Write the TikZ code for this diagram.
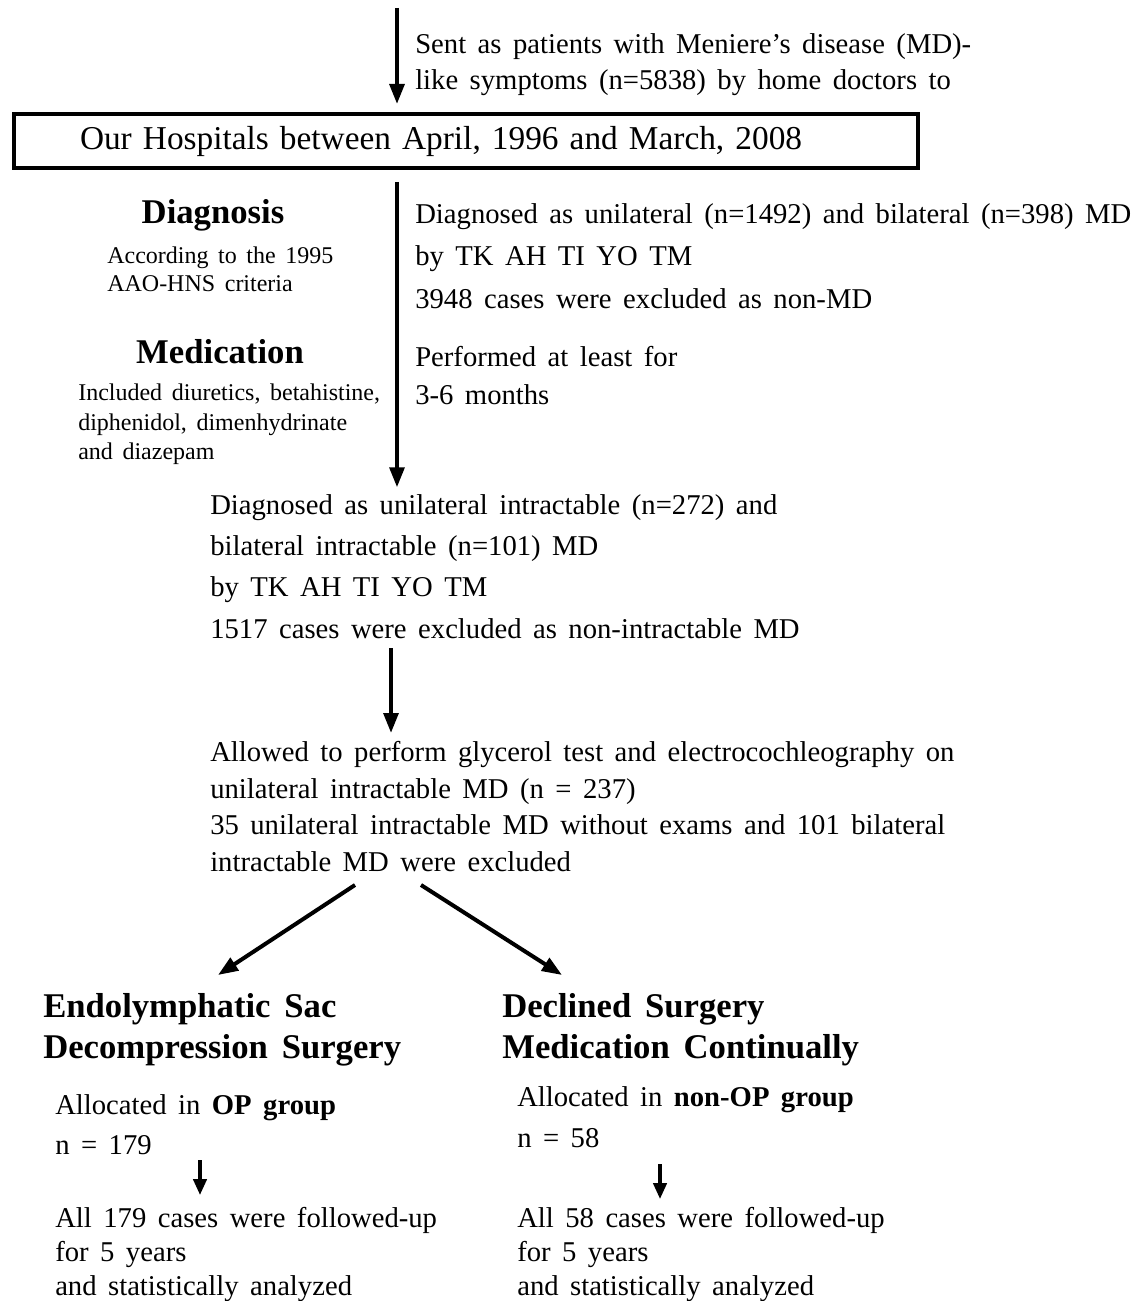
\documentclass[tikz,border=0pt]{standalone}
\usepackage{fontspec}
\setmainfont{Liberation Serif}[WordSpace=1.6]
\usetikzlibrary{arrows.meta, calc}

\begin{document}
\begin{tikzpicture}[x=0.75pt, y=-0.75pt,
    txt/.style={anchor=north west, inner sep=0pt, align=left, font=\fontsize{21.5}{30}\selectfont},
    small/.style={anchor=north west, inner sep=0pt, align=left, font=\fontsize{18}{21}\selectfont},
    head/.style={anchor=north, inner sep=0pt, font=\fontsize{26}{31}\selectfont\bfseries},
    hd/.style={anchor=north west, inner sep=0pt, align=left, font=\fontsize{26}{31}\selectfont\bfseries},
    arr/.style={-{Triangle[length=15pt, width=11pt]}, line width=3pt},
    sarr/.style={-{Triangle[length=12pt, width=10pt]}, line width=2.6pt}]
\useasboundingbox (0,0) rectangle (1130,1301);
% top of the chart
\coordinate (src) at (397,8);
\node[draw, line width=3pt, anchor=west, minimum height=40.5pt, inner xsep=49.5pt, text width=579pt, align=left, font=\fontsize{25}{28}\selectfont] (hosp) at (12,141) {Our Hospitals between April, 1996 and March, 2008};
\node[txt, font=\fontsize{21.5}{27}\selectfont] (sent) at (415,33) {Sent as patients with Meniere's disease (MD)-\\like symptoms (n=5838) by home doctors to};
\draw[arr, shorten >=6pt] (src) -- (hosp.north -| src);

% diagnosis and medication
\node[head] (dgn) at (213,199) {Diagnosis};
\node[small] (crit) at (107,247) {According to the 1995\\AAO-HNS criteria};
\node[head] (med) at (220,339) {Medication};
\node[small, font=\fontsize{18}{22}\selectfont] (drug) at (78,384) {Included diuretics, betahistine,\\diphenidol, dimenhydrinate\\and diazepam};
\node[txt, font=\fontsize{21.5}{32}\selectfont] (diag) at (415,203) {Diagnosed as unilateral (n=1492) and bilateral (n=398) MD\\by TK AH TI YO TM\\3948 cases were excluded as non-MD};
\node[txt, font=\fontsize{21.5}{28.5}\selectfont] (perf) at (415,346) {Performed at least for\\3-6 months};

% intractable MD
\node[txt, font=\fontsize{21.5}{31}\selectfont] (intr) at (210,494) {Diagnosed as unilateral intractable (n=272) and\\bilateral intractable (n=101) MD\\by TK AH TI YO TM\\1517 cases were excluded as non-intractable MD};
\draw[arr, shorten <=9pt, shorten >=5pt] (hosp.south -| src) -- (intr.north -| src);
\node[txt, font=\fontsize{21.5}{27.5}\selectfont] (allow) at (210,741) {Allowed to perform glycerol test and electrocochleography on\\unilateral intractable MD (n = 237)\\35 unilateral intractable MD without exams and 101 bilateral\\intractable MD were excluded};
\coordinate (mid) at (391,0);
\draw[arr, shorten <=7pt, shorten >=6pt] (intr.south -| mid) -- (allow.north -| mid);

% two groups
\coordinate (fl) at (355,885);
\coordinate (fr) at (421,885);
\coordinate (el) at (218,975);
\coordinate (er) at (562,975);
\draw[arr] (fl) -- (el);
\draw[arr] (fr) -- (er);
\node[hd] (esd) at (43,993) {Endolymphatic Sac\\Decompression Surgery};
\node[hd] (decl) at (502,993) {Declined Surgery\\Medication Continually};

\node[txt] (opgrp) at (55,1094) {Allocated in \textbf{OP group}\\n = 179};
\node[txt, font=\fontsize{21.5}{31}\selectfont] (nonop) at (517,1086) {Allocated in \textbf{non-OP group}\\n = 58};
\node[txt, font=\fontsize{21.5}{25.5}\selectfont] (opres) at (55,1207) {All 179 cases were followed-up\\for 5 years\\and statistically analyzed};
\node[txt, font=\fontsize{21.5}{25.5}\selectfont] (nonres) at (517,1207) {All 58 cases were followed-up\\for 5 years\\and statistically analyzed};
\coordinate (la) at (200,0);
\coordinate (ra) at (660,0);
\draw[sarr, shorten <=4pt, shorten >=9pt] (opgrp.south -| la) -- (opres.north -| la);
\draw[sarr, shorten <=12pt, shorten >=6pt] (nonop.south -| ra) -- (nonres.north -| ra);
\end{tikzpicture}
\end{document}
